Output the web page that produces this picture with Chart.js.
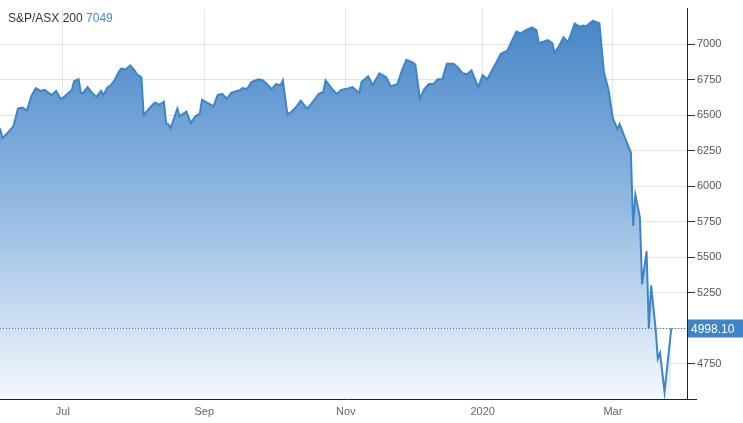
<!DOCTYPE html>
<html><head><meta charset="utf-8">
<script src="https://cdn.jsdelivr.net/npm/chart.js@4/dist/chart.umd.min.js"></script>
<style>html,body{margin:0;padding:0;background:#fff}#w{width:743px;height:423px}</style>
</head><body><div id="w"><canvas id="c"></canvas></div>
<script>
// day offsets from 2019-07-01
const days = [-28,-27,-25,-22,-20,-18,-16,-14,-12,-10,-8,-7,-5,-3,-1,0,2,4,5,7,8,9,11,13,15,17,18,20,21,23,25,26,28,30,32,33,35,36,38,40,41,43,45,46,47,48,51,52,55,57,59,61,62,66,67,69,71,73,75,79,80,82,84,87,89,91,93,95,97,98,100,102,104,106,108,109,112,114,116,117,120,122,124,126,129,132,133,136,138,141,144,146,149,151,153,156,157,159,161,163,165,167,169,171,174,176,178,180,182,185,187,189,193,195,198,202,204,206,209,211,212,216,218,219,221,223,225,228,230,232,233,236,239,241,243,245,247,248,250,253,254,255,257,258,260,261,262,264,265,266,268,271];
const values = [6408,6339,6367,6422,6546,6553,6532,6635,6690,6670,6677,6663,6642,6670,6615,6620,6649,6677,6738,6752,6656,6656,6697,6656,6628,6670,6642,6697,6704,6745,6807,6828,6821,6849,6814,6787,6766,6498,6539,6573,6587,6573,6594,6443,6436,6408,6546,6491,6525,6443,6491,6511,6608,6573,6560,6642,6649,6615,6656,6677,6690,6683,6732,6752,6745,6718,6683,6718,6711,6745,6505,6525,6560,6601,6560,6546,6608,6649,6663,6745,6683,6649,6677,6683,6697,6656,6732,6773,6711,6794,6766,6704,6718,6814,6890,6869,6855,6615,6683,6718,6718,6752,6752,6862,6862,6835,6794,6787,6814,6697,6780,6752,6869,6931,6955,7089,7076,7096,7117,7096,7007,7028,7007,6938,6986,7048,7014,7145,7124,7131,7124,7165,7145,6800,6683,6477,6401,6436,6353,6236,5720,5940,5782,5307,5541,4997,5300,4997,4784,4825,4550,4998.10];
const xTickPos = [0,63,126,187,245];
const xTickLabels = ['Jul','Sep','Nov','2020','Mar'];
const yTicks = [4750,5000,5250,5500,5750,6000,6250,6500,6750,7000];
const titleName = 'S&P/ASX 200';
const titleValue = '7049';
const lastLabel = '4998.10';

const pts = days.map((d,i)=>({x:d,y:values[i]}));
const overlay = {
  id:'overlay',
  afterDatasetsDraw(chart){
    const {ctx,chartArea:a,scales:{y}} = chart;
    const py = Math.round(y.getPixelForValue(values[values.length-1]))+0.5;
    ctx.save();
    ctx.strokeStyle='#3d6fa8';ctx.lineWidth=1;ctx.setLineDash([1,2]);
    ctx.beginPath();ctx.moveTo(a.left,py);ctx.lineTo(a.right,py);ctx.stroke();
    ctx.setLineDash([]);
    ctx.fillStyle='#3d85c6';ctx.fillRect(a.right+1,py-9,56,18);
    ctx.fillStyle='#fff';ctx.font='12px Arial, "Liberation Sans"';ctx.textBaseline='middle';
    ctx.fillText(lastLabel,a.right+4,py+1);
    ctx.font='12px Arial, "Liberation Sans"';ctx.textBaseline='alphabetic';
    ctx.fillStyle='#333';ctx.fillText(titleName,8,22);
    const w=ctx.measureText(titleName+' ').width;
    ctx.fillStyle='#4a86c8';ctx.fillText(titleValue,8+w,22);
    ctx.strokeStyle='#222';ctx.lineWidth=1;
    ctx.beginPath();ctx.moveTo(0,a.bottom+0.5);ctx.lineTo(a.right+10,a.bottom+0.5);ctx.stroke();
    ctx.restore();
  }
};
new Chart(document.getElementById('c'),{
  type:'line',
  data:{datasets:[{data:pts,borderColor:'#3d85c6',borderWidth:2,pointRadius:0,tension:0,fill:'start',
    backgroundColor(ctx){const a=ctx.chart.chartArea;if(!a)return '#8fb6e0';
      const g=ctx.chart.ctx.createLinearGradient(0,a.top,0,a.bottom);
      g.addColorStop(0,'#4383c6');g.addColorStop(0.5,'#92b9e2');g.addColorStop(1,'#f4f8fd');return g;}}]},
  options:{responsive:true,maintainAspectRatio:false,animation:false,
    layout:{padding:{top:-7,left:0,right:0,bottom:0}},
    plugins:{legend:{display:false},tooltip:{enabled:false}},
    scales:{
      x:{type:'linear',min:-28,max:278,
        afterBuildTicks(s){s.ticks=xTickPos.map(v=>({value:v}));},
        afterFit(s){s.height=24;},
        ticks:{autoSkip:false,maxRotation:0,color:'#666',font:{size:11,family:'Arial, "Liberation Sans"'},padding:6,
          callback(v){const i=xTickPos.indexOf(v);return i>=0?xTickLabels[i]:'';}},
        grid:{color:'#e6e6e6',drawTicks:false},border:{display:false}},
      y:{position:'right',min:4500,max:7250,
        afterBuildTicks(s){s.ticks=[4500].concat(yTicks).map(v=>({value:v}));},
        afterFit(s){s.width=56;},
        ticks:{color:'#555',font:{size:11,family:'Arial, "Liberation Sans"'},padding:2,
          callback(v){return yTicks.includes(v)?String(v):'';}},
        grid:{color(c){return c.tick&&c.tick.value===4500?'rgba(0,0,0,0)':'#e3e3e3';},tickColor:'#333',tickLength:8},
        border:{display:true,color:'#222'}}
    }},
  plugins:[overlay]
});
</script></body></html>
